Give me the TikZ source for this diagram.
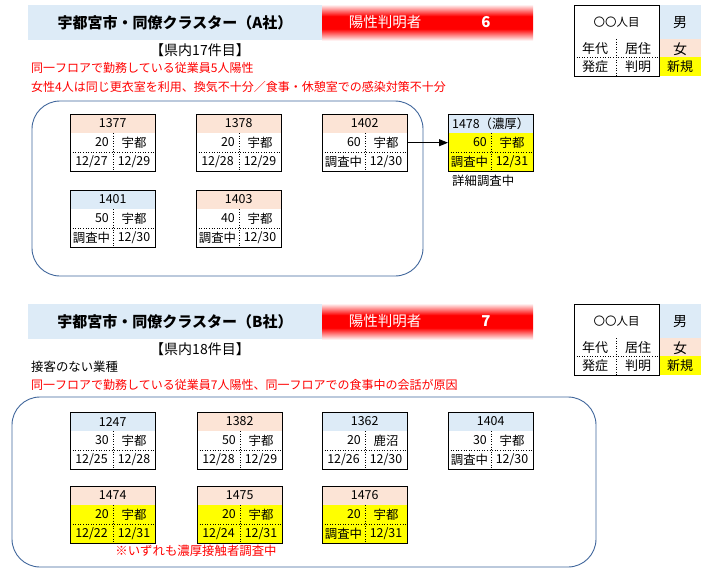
\documentclass[tikz,border=0pt]{standalone}
\usepackage{fontspec}
\setmainfont{Noto Sans CJK JP}
\usetikzlibrary{calc,arrows.meta}
\definecolor{hblue}{HTML}{DDEBF7}
\definecolor{hpink}{HTML}{FCE4D6}
\definecolor{hyel}{HTML}{FFFF00}
\definecolor{frameblue}{HTML}{41679C}
\definecolor{txtred}{HTML}{FF0000}
\pgfdeclareverticalshading{redbar}{100bp}{color(0bp)=(red!6); color(25bp)=(red!6); color(41bp)=(red); color(59bp)=(red); color(75bp)=(red!6); color(100bp)=(red!6)}
\tikzset{
  every node/.style={font=\fontsize{12.4}{14}\selectfont, inner sep=0pt},
  cardbox/.style={minimum width=85pt, minimum height=57pt, inner sep=0pt, anchor=north west},
  cardline/.style={line width=0.9pt, black},
  dotline/.style={dotted, line width=0.6pt},
  frame/.style={draw=frameblue, line width=0.9pt, rounded corners=28pt},
  titlefont/.style={font=\fontsize{15}{18}\selectfont\bfseries},
  redtext/.style={text=txtred, anchor=west, font=\fontsize{12}{14}\selectfont},
}
% #1 name, #2 top-left, #3 header text, #4 header colour, #5 body colour,
% #6 age, #7 city, #8 onset, #9 confirmed
\newcommand{\casecard}[9]{%
  \node[cardbox, fill=#5] (#1) at (#2) {};
  \fill[#4] (#1.north west) rectangle ($(#1.north east)+(0,19)$);
  \node (#1-h) at ($(#1.north)+(0,9.5)$) {#3};
  \draw[dotline] ($(#1.north west)+(0,38)$) -- ($(#1.north east)+(0,38)$);
  \draw[dotline] ($(#1.north west)+(43,19)$) -- ($(#1.south west)+(43,0)$);
  \node[anchor=east] (#1-a) at ($(#1.north west)+(39,28.5)$) {#6};
  \node (#1-c) at ($(#1.north west)+(64,28.5)$) {#7};
  \node (#1-o) at ($(#1.north west)+(21.5,47.5)$) {#8};
  \node (#1-d) at ($(#1.north west)+(64,47.5)$) {#9};
  \draw[cardline] (#1.north west) rectangle (#1.south east);
}
% #1 prefix, #2 top y, #3 title, #4 count
\newcommand{\sectionhead}[4]{%
  \fill[hblue] (28,#2) rectangle (322,#2+35);
  \node[titlefont] (#1-title) at (175,#2+17.5) {#3};
  \shade[shading=redbar] (322,#2) rectangle (533,#2+35);
  \node[text=white] (#1-lab) at (385,#2+17.5) {\fontsize{14.5}{16}\selectfont 陽性判明者};
  \node[text=white] (#1-num) at (486,#2+17.5) {\fontsize{15}{17}\selectfont\bfseries #4};
  % legend
  \fill[hblue] (659,#2) rectangle (701,#2+34);
  \fill[hpink] (659,#2+34) rectangle (701,#2+52);
  \fill[hyel] (659,#2+52) rectangle (701,#2+71);
  \draw[dotline] (574,#2+52) -- (659,#2+52);
  \draw[dotline] (616,#2+34) -- (616,#2+71);
  \draw[line width=0.8pt] (574,#2) rectangle (659,#2+71);
  \node (#1-lg1) at (616.5,#2+17.5) {\fontsize{11.5}{13}\selectfont 〇〇人目};
  \node (#1-lg2) at (595,#2+44) {\fontsize{13}{14}\selectfont 年代};
  \node (#1-lg3) at (638,#2+44) {\fontsize{13}{14}\selectfont 居住};
  \node (#1-lg4) at (595,#2+62) {\fontsize{13}{14}\selectfont 発症};
  \node (#1-lg5) at (638,#2+62) {\fontsize{13}{14}\selectfont 判明};
  \node (#1-lg6) at (680,#2+18) {\fontsize{14}{16}\selectfont 男};
  \node (#1-lg7) at (680,#2+44) {\fontsize{14}{16}\selectfont 女};
  \node (#1-lg8) at (680,#2+62) {\fontsize{13}{14}\selectfont 新規};
}
\begin{document}
\begin{tikzpicture}[x=1pt,y=-1pt]
\useasboundingbox[fill=white] (0,0) rectangle (712,571);

% ---------------- Section A ----------------
\sectionhead{A}{5}{宇都宮市・同僚クラスター（A社）}{6}
\node (A-count) at (200,50) {\fontsize{14}{16}\selectfont 【県内17件目】};
\node[redtext] (A-r1) at (31,68) {同一フロアで勤務している従業員5人陽性};
\node[redtext] (A-r2) at (31,87) {女性4人は同じ更衣室を利用、換気不十分／食事・休憩室での感染対策不十分};
\draw[frame] (32,101) rectangle (423,276);

\casecard{c1377}{70,114}{1377}{hpink}{white}{20}{宇都}{12/27}{12/29}
\casecard{c1378}{196,114}{1378}{hpink}{white}{20}{宇都}{12/28}{12/29}
\casecard{c1402}{322,114}{1402}{hpink}{white}{60}{宇都}{調査中}{12/30}
\casecard{c1478}{448,114}{1478（濃厚）}{hblue}{hyel}{60}{宇都}{調査中}{12/31}
\casecard{c1401}{70,190}{1401}{hblue}{white}{50}{宇都}{調査中}{12/30}
\casecard{c1403}{196,190}{1403}{hpink}{white}{40}{宇都}{調査中}{12/30}
\draw[line width=0.8pt, -{Triangle[length=9pt,width=7pt]}] (c1402.east) -- (c1478.west);
\node[anchor=west] (A-note) at (452,181) {詳細調査中};

% ---------------- Section B ----------------
\sectionhead{B}{304}{宇都宮市・同僚クラスター（B社）}{7}
\node (B-count) at (200,349) {\fontsize{14}{16}\selectfont 【県内18件目】};
\node[anchor=west] (B-t1) at (31,367) {接客のない業種};
\node[redtext] (B-r1) at (31,385) {同一フロアで勤務している従業員7人陽性、同一フロアでの食事中の会話が原因};
\draw[frame] (12,397) rectangle (596,567);

\casecard{c1247}{70,412}{1247}{hblue}{white}{30}{宇都}{12/25}{12/28}
\casecard{c1382}{197,412}{1382}{hpink}{white}{50}{宇都}{12/28}{12/29}
\casecard{c1362}{322,412}{1362}{hblue}{white}{20}{鹿沼}{12/26}{12/30}
\casecard{c1404}{448,412}{1404}{hblue}{white}{30}{宇都}{調査中}{12/30}
\casecard{c1474}{70,486}{1474}{hpink}{hyel}{20}{宇都}{12/22}{12/31}
\casecard{c1475}{197,486}{1475}{hpink}{hyel}{20}{宇都}{12/24}{12/31}
\casecard{c1476}{322,486}{1476}{hpink}{hyel}{20}{宇都}{調査中}{12/31}
\node[text=txtred] (B-note) at (196,551) {※いずれも濃厚接触者調査中};
\end{tikzpicture}
\end{document}
